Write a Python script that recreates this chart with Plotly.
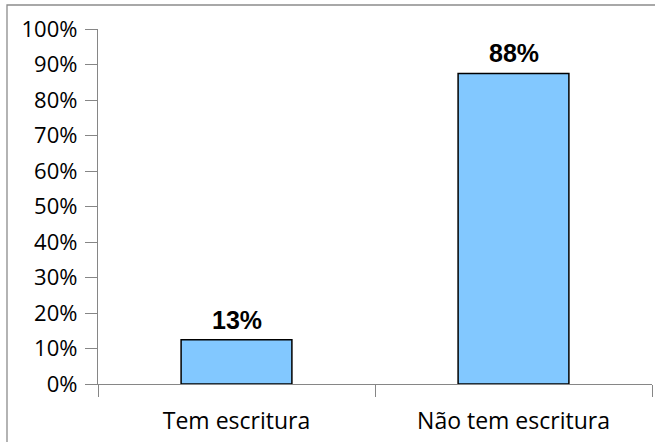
import plotly.graph_objects as go

# Share of properties with and without a registered deed
categories = ["Tem escritura", "Não tem escritura"]
shares = [0.125, 0.875]
tick_values = [0, 0.1, 0.2, 0.3, 0.4, 0.5, 0.6, 0.7, 0.8, 0.9, 1.0]
tick_labels = ["0%", "10%", "20%", "30%", "40%", "50%", "60%", "70%", "80%", "90%", "100%"]

W, H = 655, 442
ML, MR, MT, MB = 98, 3, 29, 58
AXIS_GRAY = "#868686"


def pct_label(v):
    # whole-number percentage, halves rounded up
    return "{}%".format(int(v * 100 + 0.5))


fig = go.Figure(
    go.Bar(
        x=categories,
        y=shares,
        width=0.4,
        marker=dict(color="#82C8FF", line=dict(color="#000000", width=1.5)),
        hoverinfo="skip",
    )
)

# Bold value labels above each bar
for cat, val in zip(categories, shares):
    fig.add_annotation(
        x=cat, y=val, xref="x", yref="y",
        text="<b>" + pct_label(val) + "</b>",
        showarrow=False, yanchor="bottom", yshift=4,
        font=dict(family="Liberation Sans, Arial, sans-serif", size=25, color="#000000"),
    )

# Outer chart frame (extends past the right and bottom edges)
pw, ph = W - ML - MR, H - MT - MB
fig.add_shape(
    type="rect", xref="paper", yref="paper",
    x0=(7 - ML) / pw, x1=(W + 10 - ML) / pw,
    y0=-(MB + 10) / ph, y1=1 + (MT - 5) / ph,
    line=dict(color="#8C8C8C", width=1.3), fillcolor="rgba(0,0,0,0)", layer="below",
)

fig.update_layout(
    width=W, height=H,
    margin=dict(l=ML, r=MR, t=MT, b=MB),
    paper_bgcolor="#FFFFFF", plot_bgcolor="#FFFFFF",
    showlegend=False,
    bargap=0.6,
    font=dict(family="Open Sans, sans-serif", color="#000000"),
)
fig.update_xaxes(
    type="category",
    showline=True, linecolor=AXIS_GRAY, linewidth=1.3,
    ticks="outside", tickson="boundaries", ticklen=12, tickcolor=AXIS_GRAY, tickwidth=1.3,
    tickfont=dict(family="Open Sans, sans-serif", size=23, color="#000000"),
    ticklabelstandoff=16,
    showgrid=False, zeroline=False,
)
fig.update_yaxes(
    range=[0, 1],
    tickvals=tick_values, ticktext=tick_labels,
    showline=True, linecolor=AXIS_GRAY, linewidth=1.3,
    ticks="outside", ticklen=12, tickcolor=AXIS_GRAY, tickwidth=1.3,
    tickfont=dict(family="Open Sans, sans-serif", size=22, color="#000000"),
    ticklabelstandoff=3,
    showgrid=False, zeroline=False,
)

fig.write_html("out.html")
